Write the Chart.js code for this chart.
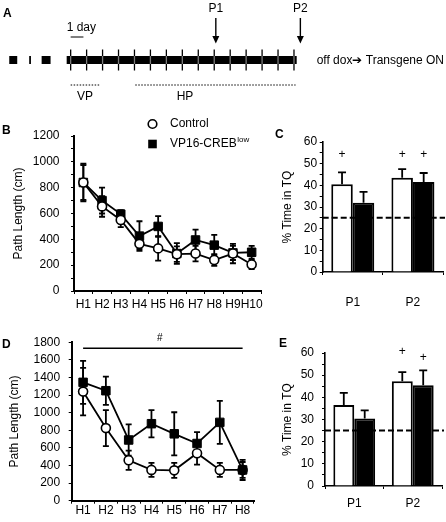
<!DOCTYPE html>
<html>
<head>
<meta charset="utf-8">
<script src="https://cdn.jsdelivr.net/npm/chart.js@4.4.0/dist/chart.umd.min.js"></script>
<style>
  body { margin: 0; background: #fff; }
  #fig { position: relative; width: 446px; height: 522px; overflow: hidden; font-family: "Liberation Sans", Arial, sans-serif; }
  canvas { position: absolute; }
  .pl { position: absolute; font-size: 12px; font-weight: bold; line-height: 14px; transform: translateY(-50%); color: #000; }
</style>
</head>
<body>
<div id="fig">
  <canvas id="chartA" width="446" height="110" style="left:0;top:0"></canvas>
  <canvas id="chartB" width="272" height="210" style="left:0;top:112px"></canvas>
  <canvas id="chartC" width="174" height="200" style="left:272px;top:118px"></canvas>
  <canvas id="chartD" width="270" height="196" style="left:0;top:326px"></canvas>
  <canvas id="chartE" width="174" height="194" style="left:272px;top:328px"></canvas>
  <div class="pl" style="left:3px;top:12.5px">A</div>
  <div class="pl" style="left:2px;top:130px">B</div>
  <div class="pl" style="left:275px;top:133.5px">C</div>
  <div class="pl" style="left:2px;top:343.5px">D</div>
  <div class="pl" style="left:279px;top:342.5px">E</div>
</div>
<script>
// panel A timeline (days)
const dayTicks = [0, 1, 2, 3, 4, 5, 6, 7, 8, 9, 10, 11, 12, 13, 14];
const breakSegs = [[-3.85, -3.35], [-2.6, -2.49], [-1.82, -1.26]];
const timelineSpan = [-0.25, 14.17];
const probeDays = [9.1, 14.4];
const probeLabels = ['P1', 'P2'];
const vpSpan = [0, 1.8];
const hpSpan = [4.05, 14.1];
const scaleBarDays = [0, 0.8];

// panel B
const hLabelsB = ['H1', 'H2', 'H3', 'H4', 'H5', 'H6', 'H7', 'H8', 'H9', 'H10'];
const bControl = [840, 655, 550, 365, 330, 285, 290, 240, 290, 205];
const bControlErr = [135, 80, 55, 40, 95, 60, 60, 45, 75, 35];
const bCreb = [840, 700, 595, 425, 500, 290, 395, 355, 295, 300];
const bCrebErr = [145, 100, 30, 115, 80, 80, 80, 80, 55, 50];

// panel C
const probes = ['P1', 'P2'];
const cControl = [40.5, 43.5];
const cControlErr = [5.5, 4];
const cCreb = [32, 41.5];
const cCrebErr = [5, 4.2];
const cPlusControl = [54, 54];
const cPlusCreb = [null, 54];

// panel D
const hLabelsD = ['H1', 'H2', 'H3', 'H4', 'H5', 'H6', 'H7', 'H8'];
const dControl = [1240, 825, 460, 350, 345, 540, 350, 350];
const dControlErr = [270, 205, 110, 80, 85, 130, 80, 90];
const dCreb = [1345, 1250, 690, 875, 760, 650, 890, 350];
const dCrebErr = [245, 160, 178, 155, 245, 130, 245, 115];

// panel E
const eControl = [36.5, 47.2];
const eControlErr = [5.5, 4.2];
const eCreb = [30.4, 45.4];
const eCrebErr = [3.7, 6.8];
const ePlusControl = [null, 60.7];
const ePlusCreb = [null, 57.7];

const chance = 25;

Chart.defaults.font.family = "'Liberation Sans', Arial, sans-serif";
Chart.defaults.font.size = 12;
Chart.defaults.color = '#000';

function drawErr(chart, after) {
  const ctx = chart.ctx, y = chart.scales.y;
  chart.data.datasets.forEach((ds, i) => {
    if (!ds.errors || !!ds.errAfter !== after) return;
    const meta = chart.getDatasetMeta(i);
    const cap = ds.cap || 3;
    ctx.save();
    ctx.strokeStyle = '#000';
    ctx.lineWidth = 1.8;
    meta.data.forEach((el, j) => {
      const v = ds.data[j], e = ds.errors[j];
      const top = y.getPixelForValue(v + e);
      const bot = ds.upOnly ? y.getPixelForValue(v) : y.getPixelForValue(v - e);
      ctx.beginPath();
      ctx.moveTo(el.x, top); ctx.lineTo(el.x, bot);
      ctx.moveTo(el.x - cap, top); ctx.lineTo(el.x + cap, top);
      if (!ds.upOnly) { ctx.moveTo(el.x - cap, bot); ctx.lineTo(el.x + cap, bot); }
      ctx.stroke();
    });
    ctx.restore();
  });
}
const errorBars = {
  id: 'errorBars',
  beforeDatasetsDraw(chart) { drawErr(chart, false); },
  afterDatasetsDraw(chart) { drawErr(chart, true); }
};

// dashed chance line + "+" marks for the bar panels
const chanceLine = {
  id: 'chanceLine',
  afterDatasetsDraw(chart) {
    const {ctx, chartArea, scales: {y}} = chart;
    const py = y.getPixelForValue(chance);
    ctx.save();
    ctx.setLineDash([6, 3]);
    ctx.lineWidth = 2;
    ctx.strokeStyle = '#000';
    ctx.beginPath(); ctx.moveTo(chartArea.left, py); ctx.lineTo(chartArea.right + 2, py); ctx.stroke();
    ctx.setLineDash([]);
    ctx.font = "12px 'Liberation Sans'";
    ctx.textAlign = 'center';
    ctx.textBaseline = 'middle';
    ctx.fillStyle = '#000';
    chart.data.datasets.forEach((ds, i) => {
      const meta = chart.getDatasetMeta(i);
      (ds.plus || []).forEach((p, j) => {
        if (p == null) return;
        ctx.fillText('+', meta.data[j].x, y.getPixelForValue(p));
      });
    });
    ctx.restore();
  }
};

function lineDs(label, data, errors, isCreb) {
  return {
    label: label, data: data, errors: errors, cap: 3,
    borderColor: '#000', borderWidth: 1.8, tension: 0, fill: false,
    pointStyle: isCreb ? 'rect' : 'circle',
    pointRadius: isCreb ? 6 : 4.5,
    pointBorderWidth: isCreb ? 1 : 1.6,
    pointBackgroundColor: isCreb ? '#000' : '#fff',
    pointBorderColor: '#000'
  };
}

function lineOpts(pad, yMax, yStep, labelEvery, yWidth, xHeight, yPad, xPad, titlePad) {
  return {
    responsive: false, animation: false, devicePixelRatio: 1,
    layout: { padding: pad },
    plugins: { legend: { display: false }, tooltip: { enabled: false } },
    scales: {
      x: {
        offset: true,
        grid: { display: true, drawOnChartArea: false, offset: true, tickLength: 3, color: '#000' },
        border: { color: '#000', width: 2 },
        ticks: { padding: xPad, autoSkip: false, maxRotation: 0 },
        afterFit: s => { s.height = xHeight; }
      },
      y: {
        min: 0, max: yMax,
        grid: { display: true, drawOnChartArea: false, tickLength: 3, color: '#000' },
        border: { color: '#000', width: 2 },
        ticks: { stepSize: yStep, padding: yPad, autoSkip: false, callback: v => v % labelEvery === 0 ? v : '' },
        title: { display: true, text: 'Path Length (cm)', padding: { top: titlePad, bottom: 0 } },
        afterFit: s => { s.width = yWidth; }
      }
    }
  };
}

function barOpts(pad, yWidth, xHeight, yPad, xPad, titlePad) {
  return {
    responsive: false, animation: false, devicePixelRatio: 1,
    layout: { padding: pad },
    plugins: { legend: { display: false }, tooltip: { enabled: false } },
    datasets: { bar: { categoryPercentage: 0.715, barPercentage: 1 } },
    scales: {
      x: {
        grid: { display: true, drawOnChartArea: false, offset: true, tickLength: 3, color: '#000' },
        border: { color: '#000', width: 1.5 },
        ticks: { padding: xPad },
        afterFit: s => { s.height = xHeight; }
      },
      y: {
        min: 0, max: 60,
        grid: { display: true, drawOnChartArea: false, tickLength: 3, color: '#000' },
        border: { color: '#000', width: 1.6 },
        ticks: { stepSize: 5, padding: yPad, autoSkip: false, callback: v => v % 10 === 0 ? v : '' },
        title: { display: true, text: '% Time in TQ', padding: { top: titlePad, bottom: 0 } },
        afterFit: s => { s.width = yWidth; }
      }
    }
  };
}

function barData(ctrl, ctrlErr, ctrlPlus, creb, crebErr, crebPlus) {
  return {
    labels: probes,
    datasets: [
      { label: 'Control', data: ctrl, errors: ctrlErr, plus: ctrlPlus, upOnly: true, errAfter: true, cap: 4,
        backgroundColor: '#fff', borderColor: '#000', borderWidth: 2 },
      { label: 'VP16-CREB', data: creb, errors: crebErr, plus: crebPlus, upOnly: true, errAfter: true, cap: 4,
        backgroundColor: '#000', borderColor: '#000', borderWidth: 2 }
    ]
  };
}

// ---- A: experimental timeline
const timelinePlugin = {
  id: 'timeline',
  afterDraw(chart) {
    const {ctx, scales: {x, y}} = chart;
    const X = d => x.getPixelForValue(d), Y = v => y.getPixelForValue(v);
    ctx.save();
    ctx.fillStyle = '#000';
    ctx.fillRect(X(timelineSpan[0]), Y(56), X(timelineSpan[1]) - X(timelineSpan[0]), Y(64) - Y(56));
    breakSegs.forEach(s => ctx.fillRect(X(s[0]), Y(56), X(s[1]) - X(s[0]), Y(64) - Y(56)));
    dayTicks.forEach(d => {
      ctx.lineWidth = 1.3;
      ctx.strokeStyle = '#000';
      ctx.beginPath(); ctx.moveTo(X(d), Y(49.5)); ctx.lineTo(X(d), Y(70.5)); ctx.stroke();
      ctx.strokeStyle = '#7a7a7a';
      ctx.beginPath(); ctx.moveTo(X(d), Y(56)); ctx.lineTo(X(d), Y(64)); ctx.stroke();
    });
    ctx.font = "12px 'Liberation Sans'";
    ctx.textBaseline = 'middle';
    ctx.textAlign = 'center';
    ctx.strokeStyle = '#000';
    probeDays.forEach((d, i) => {
      ctx.lineWidth = 1.4;
      ctx.beginPath(); ctx.moveTo(X(d), Y(18)); ctx.lineTo(X(d), Y(37)); ctx.stroke();
      ctx.beginPath();
      ctx.moveTo(X(d) - 3.5, Y(36)); ctx.lineTo(X(d) + 3.5, Y(36)); ctx.lineTo(X(d), Y(43.5));
      ctx.closePath(); ctx.fill();
      ctx.fillText(probeLabels[i], X(d), Y(9));
    });
    // scale bar
    ctx.textAlign = 'left';
    ctx.fillText('1 day', X(-0.25), Y(28));
    ctx.lineWidth = 1;
    ctx.beginPath(); ctx.moveTo(X(scaleBarDays[0]), Y(37)); ctx.lineTo(X(scaleBarDays[1]), Y(37)); ctx.stroke();
    // phases
    ctx.setLineDash([1.5, 1.5]);
    [vpSpan, hpSpan].forEach(s => {
      ctx.beginPath(); ctx.moveTo(X(s[0]), Y(85)); ctx.lineTo(X(s[1]), Y(85)); ctx.stroke();
    });
    ctx.setLineDash([]);
    ctx.textAlign = 'center';
    ctx.fillText('VP', X((vpSpan[0] + vpSpan[1]) / 2), Y(97));
    ctx.fillText('HP', X(7.17), Y(97));
    ctx.textAlign = 'left';
    ctx.fillText('off dox\u2794 Transgene ON', X(15.42), Y(61));
    ctx.restore();
  }
};

new Chart(document.getElementById('chartA'), {
  type: 'scatter',
  data: { datasets: [] },
  options: {
    responsive: false, animation: false, devicePixelRatio: 1,
    layout: { padding: 0 },
    plugins: { legend: { display: false }, tooltip: { enabled: false } },
    scales: {
      x: { type: 'linear', display: false, min: -4.43, max: 23.53 },
      y: { type: 'linear', display: false, min: 0, max: 110, reverse: true }
    }
  },
  plugins: [timelinePlugin]
});

// ---- B
const legendB = {
  id: 'legendB',
  afterDraw(chart) {
    const ctx = chart.ctx;
    ctx.save();
    ctx.lineWidth = 1.6;
    ctx.strokeStyle = '#000';
    ctx.fillStyle = '#fff';
    ctx.beginPath(); ctx.arc(152.5, 12, 4.3, 0, Math.PI * 2); ctx.fill(); ctx.stroke();
    ctx.fillStyle = '#000';
    ctx.fillRect(148.2, 27.7, 8.6, 8.6);
    ctx.font = "12px 'Liberation Sans'";
    ctx.textBaseline = 'middle';
    ctx.textAlign = 'left';
    ctx.fillText('Control', 170, 12);
    ctx.fillText('VP16-CREB', 170, 32);
    const w = ctx.measureText('VP16-CREB').width;
    ctx.font = "8px 'Liberation Sans'";
    ctx.fillText('low', 170 + w + 0.5, 28);
    ctx.restore();
  }
};

new Chart(document.getElementById('chartB'), {
  type: 'line',
  data: {
    labels: hLabelsB,
    datasets: [
      lineDs('Control', bControl, bControlErr, false),
      lineDs('VP16-CREB', bCreb, bCrebErr, true)
    ]
  },
  options: lineOpts({ left: 0, top: 24, right: 11, bottom: 0 }, 1200, 100, 200, 74, 31, 11.5, 3, 11),
  plugins: [errorBars, legendB]
});

// ---- C
new Chart(document.getElementById('chartC'), {
  type: 'bar',
  data: barData(cControl, cControlErr, cPlusControl, cCreb, cCrebErr, cPlusCreb),
  options: barOpts({ left: 0, top: 24, right: 3, bottom: 0 }, 50.7, 46, 2.5, 20, 8),
  plugins: [errorBars, chanceLine]
});

// ---- D
const sigLine = {
  id: 'sigLine',
  afterDraw(chart) {
    const {ctx, scales: {x, y}} = chart;
    const py = y.getPixelForValue(1732);
    const x0 = x.getPixelForValue(0), x1 = x.getPixelForValue(hLabelsD.length - 1);
    ctx.save();
    ctx.lineWidth = 1.5;
    ctx.strokeStyle = '#000';
    ctx.beginPath(); ctx.moveTo(x0, py); ctx.lineTo(x1, py); ctx.stroke();
    ctx.font = "10px 'Liberation Sans'";
    ctx.textAlign = 'center';
    ctx.textBaseline = 'middle';
    ctx.fillStyle = '#000';
    ctx.fillText('#', (x0 + x1) / 2 - 3, y.getPixelForValue(1850));
    ctx.restore();
  }
};

new Chart(document.getElementById('chartD'), {
  type: 'line',
  data: {
    labels: hLabelsD,
    datasets: [
      lineDs('VP16-CREB', dCreb, dCrebErr, true),
      lineDs('Control', dControl, dControlErr, false)
    ]
  },
  options: lineOpts({ left: 0, top: 16.3, right: 16, bottom: 0 }, 1800, 200, 200, 71.7, 21.3, 8.5, 0, 7),
  plugins: [errorBars, sigLine]
});

// ---- E
new Chart(document.getElementById('chartE'), {
  type: 'bar',
  data: barData(eControl, eControlErr, ePlusControl, eCreb, eCrebErr, ePlusCreb),
  options: barOpts({ left: 0, top: 25, right: 4, bottom: 0 }, 53, 36, 8, 7, 8),
  plugins: [errorBars, chanceLine]
});
</script>
</body>
</html>
